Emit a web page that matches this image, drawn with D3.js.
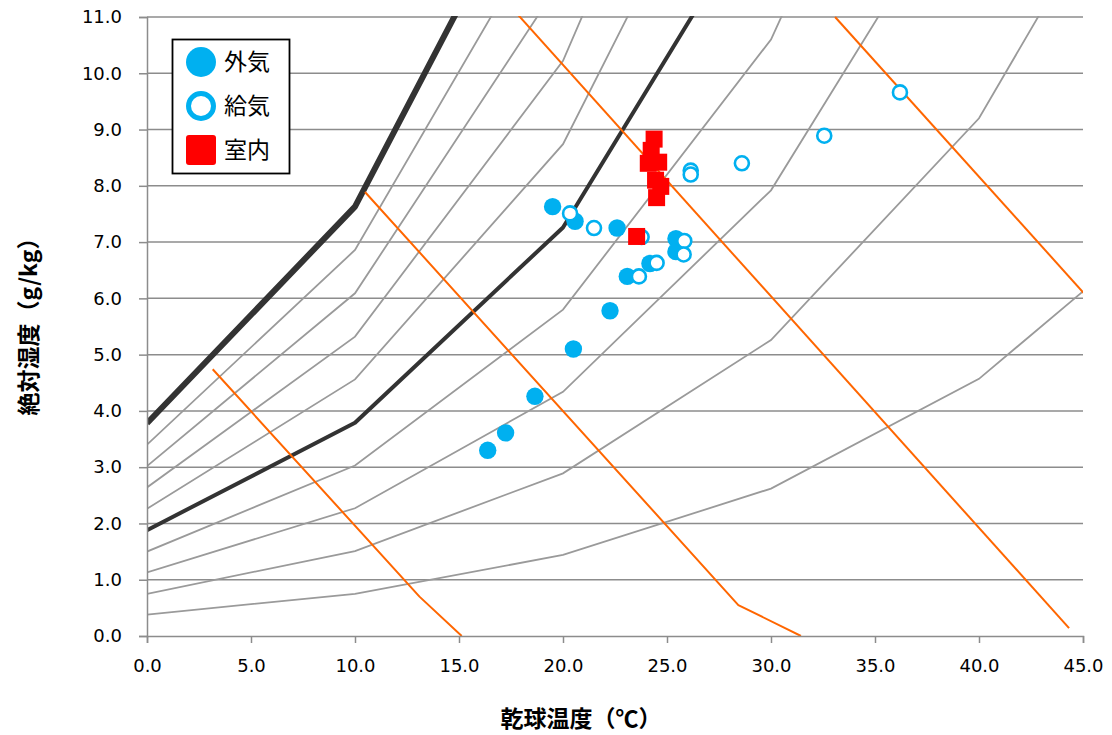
<!DOCTYPE html>
<html>
<head>
<meta charset="utf-8">
<script src="https://cdn.jsdelivr.net/npm/d3@7"></script>
<style>
  html, body { margin: 0; padding: 0; background: #fff; }
  svg { display: block; }
</style>
</head>
<body>
<svg id="chart" width="1112" height="735"></svg>
<script>
// ---------- data ----------
const xTicks = [0, 5, 10, 15, 20, 25, 30, 35, 40, 45];
const yTicks = [0, 1, 2, 3, 4, 5, 6, 7, 8, 9, 10, 11];
const seriesNames = ["外気", "給気", "室内"];

// relative humidity curves: humidity (g/kg) at dry-bulb nodes
const rhTemps = [0, 10, 20, 30, 40, 50];
const rh10  = [0.38, 0.75, 1.44, 2.62, 4.57, 7.68];
const rh20  = [0.75, 1.51, 2.89, 5.26, 9.20, 15.54];
const rh30  = [1.13, 2.27, 4.34, 7.92, 13.90, 23.6];
const rh40  = [1.50, 3.03, 5.80, 10.60, 18.68, 31.9];
const rh50  = [1.88, 3.79, 7.26, 13.31, 23.5, 40.3];
const rh60  = [2.26, 4.56, 8.74, 16.04, 28.5, 49.0];
const rh70  = [2.64, 5.32, 10.22, 18.80, 33.5, 58.0];
const rh80  = [3.02, 6.09, 11.70, 21.58, 38.6, 67.0];
const rh90  = [3.40, 6.86, 13.20, 24.38, 43.8, 77.0];
const rh100 = [3.78, 7.63, 14.70, 27.20, 49.1, 87.0];

// enthalpy lines (orange)
const h15T = [3.16, 13.1, 15.13], h15X = [4.74, 0.70, 0];
const h30T = [10.48, 28.43, 31.44], h30X = [7.89, 0.55, 0];
const h45T = [16.96, 44.33], h45X = [11.4, 0.14];
const h60T = [33.08, 47.0], h60X = [11.0, 5.29];

// 外気 (outdoor air)
const outT = [16.38, 17.24, 18.65, 20.50, 22.26, 19.50, 20.58, 22.60, 23.09, 24.18, 25.43, 25.43];
const outX = [3.30, 3.61, 4.26, 5.10, 5.78, 7.63, 7.37, 7.25, 6.39, 6.62, 7.06, 6.83];
// 給気 (supply air)
const supT = [20.34, 21.49, 23.78, 23.65, 24.50, 25.83, 25.80, 26.14, 26.14, 28.60, 32.56, 36.20];
const supX = [7.51, 7.25, 7.09, 6.39, 6.63, 7.02, 6.78, 8.27, 8.20, 8.40, 8.89, 9.66];
// 室内 (indoor)
const inT = [24.38, 24.24, 24.10, 24.60, 24.45, 24.70, 24.50, 23.54];
const inX = [8.83, 8.63, 8.40, 8.42, 8.10, 7.99, 7.79, 7.10];

// ---------- layout ----------
const svg = d3.select("#chart");
const L = 147, R = 1083, T = 17, B = 636;
const x = d3.scaleLinear().domain([0, 45]).range([L, R]);
const y = d3.scaleLinear().domain([0, 11]).range([B, T]);

const gridColor = "#8c8c8c";
const tickFont = "'DejaVu Sans', sans-serif";
const jpFont = "'Noto Sans CJK JP', sans-serif";

svg.append("defs").append("clipPath").attr("id", "plotClip")
  .append("rect").attr("x", L).attr("y", T - 1).attr("width", R - L).attr("height", B - T + 1);

// horizontal gridlines
svg.append("g").selectAll("line").data(yTicks.filter(d => d > 0)).join("line")
  .attr("x1", L).attr("x2", R)
  .attr("y1", d => y(d)).attr("y2", d => y(d))
  .attr("stroke", gridColor).attr("stroke-width", 1.5);

const plot = svg.append("g").attr("clip-path", "url(#plotClip)");
const line = d3.line().x(d => x(d[0])).y(d => y(d[1]));

// RH curves
const grayCurves = [rh10, rh20, rh30, rh40, rh60, rh70, rh80, rh90];
plot.append("g").selectAll("path").data(grayCurves).join("path")
  .attr("d", vals => line(rhTemps.map((t, i) => [t, vals[i]])))
  .attr("fill", "none").attr("stroke", "#9a9a9a").attr("stroke-width", 1.8);

plot.append("path").attr("d", line(rhTemps.map((t, i) => [t, rh50[i]])))
  .attr("fill", "none").attr("stroke", "#333333").attr("stroke-width", 4).attr("stroke-linejoin", "round");
plot.append("path").attr("d", line(rhTemps.map((t, i) => [t, rh100[i]])))
  .attr("fill", "none").attr("stroke", "#333333").attr("stroke-width", 6).attr("stroke-linejoin", "round");

// enthalpy lines
const hLines = [[h15T, h15X], [h30T, h30X], [h45T, h45X], [h60T, h60X]];
plot.append("g").selectAll("path").data(hLines).join("path")
  .attr("d", d => line(d[0].map((t, i) => [t, d[1][i]])))
  .attr("fill", "none").attr("stroke", "#ff6600").attr("stroke-width", 2).attr("stroke-linejoin", "round");

// axes
const yAxis = d3.axisLeft(y).tickValues(yTicks).tickFormat(d3.format(".1f")).tickSize(8).tickPadding(17);
const gy = svg.append("g").attr("transform", `translate(${L},0)`).call(yAxis);
const xAxis = d3.axisBottom(x).tickValues(xTicks).tickFormat(d3.format(".1f")).tickSize(7).tickPadding(16);
const gx = svg.append("g").attr("transform", `translate(0,${B})`).call(xAxis);
[gx, gy].forEach(g => {
  g.select(".domain").attr("stroke", gridColor).attr("stroke-width", 1.5);
  g.selectAll(".tick line").attr("stroke", gridColor).attr("stroke-width", 1.5);
  g.selectAll(".tick text").attr("fill", "#000").style("font-family", tickFont).style("font-size", "18px");
});

// markers
const mk = svg.append("g").attr("clip-path", "url(#plotClip)");
mk.append("g").selectAll("circle").data(outT.map((t, i) => [t, outX[i]])).join("circle")
  .attr("cx", d => x(d[0])).attr("cy", d => y(d[1])).attr("r", 8.7)
  .attr("fill", "#00b0f0");
mk.append("g").selectAll("circle").data(supT.map((t, i) => [t, supX[i]])).join("circle")
  .attr("cx", d => x(d[0])).attr("cy", d => y(d[1])).attr("r", 7)
  .attr("fill", "#fff").attr("stroke", "#00b0f0").attr("stroke-width", 2.6);
mk.append("g").selectAll("rect").data(inT.map((t, i) => [t, inX[i]])).join("rect")
  .attr("x", d => x(d[0]) - 8.5).attr("y", d => y(d[1]) - 8.5)
  .attr("width", 17).attr("height", 17).attr("fill", "#ff0000");

// legend
const lg = svg.append("g");
lg.append("rect").attr("x", 172.5).attr("y", 39.5).attr("width", 117).attr("height", 134)
  .attr("fill", "#fff").attr("stroke", "#000").attr("stroke-width", 1.8);
const legY = [62, 106, 150];
lg.append("circle").attr("cx", 201).attr("cy", legY[0]).attr("r", 15).attr("fill", "#00b0f0");
lg.append("circle").attr("cx", 201).attr("cy", legY[1]).attr("r", 12.5)
  .attr("fill", "#fff").attr("stroke", "#00b0f0").attr("stroke-width", 5);
lg.append("rect").attr("x", 186).attr("y", legY[2] - 15).attr("width", 30).attr("height", 30)
  .attr("rx", 3).attr("fill", "#ff0000");
lg.selectAll("text").data(seriesNames).join("text")
  .attr("x", 224).attr("y", (d, i) => legY[i]).attr("dy", "0.36em")
  .style("font-family", jpFont).style("font-size", "23px").attr("fill", "#000")
  .text(d => d);

// axis titles
svg.append("text").attr("x", 581).attr("y", 719).attr("text-anchor", "middle").attr("dy", "0.36em")
  .style("font-family", jpFont).style("font-size", "23px").style("font-weight", "bold")
  .text("乾球温度（℃）");
svg.append("text").attr("transform", "translate(29,321) rotate(-90)").attr("text-anchor", "middle").attr("dy", "0.36em")
  .style("font-family", jpFont).style("font-size", "23px").style("font-weight", "bold")
  .text("絶対湿度（g/kg）");
</script>
</body>
</html>
